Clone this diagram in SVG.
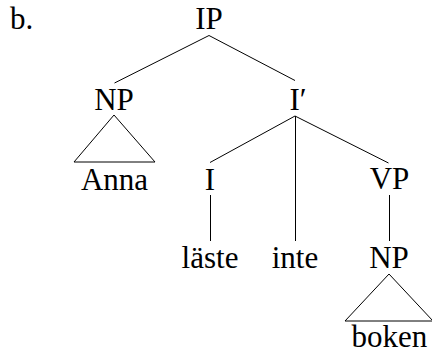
<svg xmlns="http://www.w3.org/2000/svg" width="432" height="355" viewBox="0 0 432 355">
<style>
text{font-family:"Liberation Serif","Times New Roman",serif;font-size:31px;fill:#000}
.c{text-anchor:middle}
line,polygon{stroke:#000;stroke-width:1;fill:none}
</style>
<rect width="432" height="355" fill="#fff"/>
<text x="10" y="29">b.</text>
<g id="connectors">
<line x1="209" y1="35.5" x2="114.5" y2="83"/>
<line x1="209" y1="35.5" x2="295" y2="80.5"/>
<line x1="295" y1="116" x2="210" y2="162.5"/>
<line x1="295.5" y1="116" x2="295.5" y2="241"/>
<line x1="295" y1="116" x2="388.5" y2="163"/>
<line x1="210.5" y1="195" x2="210.5" y2="241"/>
<line x1="389.5" y1="195" x2="389.5" y2="241"/>
</g>
<g id="IP"><text class="c" x="209" y="29">IP</text></g>
<g id="NP1"><text class="c" x="114" y="110">NP</text></g>
<g id="Anna"><polygon points="114,115 74,162 155,162"/><text class="c" x="114.5" y="190">Anna</text></g>
<g id="Ibar"><text x="289.5" y="110">I′</text></g>
<g id="I"><text class="c" x="210" y="190">I</text></g>
<g id="VP"><text class="c" x="389.5" y="189">VP</text></g>
<g id="laste"><text class="c" x="210" y="268">läste</text></g>
<g id="inte"><text class="c" x="295" y="268">inte</text></g>
<g id="NP2"><text class="c" x="389" y="268">NP</text></g>
<g id="boken"><polygon points="389,274 345,321 433,321"/><text class="c" x="389.5" y="347">boken</text></g>
</svg>
